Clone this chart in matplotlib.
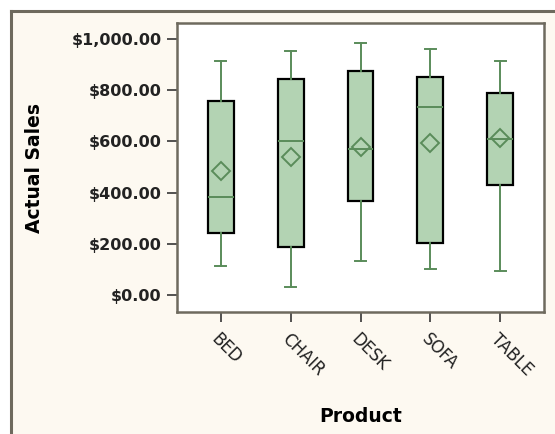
import matplotlib
matplotlib.use("Agg")
import matplotlib.pyplot as plt
from matplotlib.patches import Rectangle
from matplotlib.lines import Line2D

# values
products = ["BED", "CHAIR", "DESK", "SOFA", "TABLE"]
whisker_low = [115, 32, 132, 102, 93]
q1 = [241, 187, 366, 203, 428]
median = [382, 601, 570, 735, 608]
q3 = [758, 843, 874, 849, 787]
whisker_high = [913, 952, 984, 960, 913]
mean = [484, 540, 579, 592, 612]

yticks = [0, 200, 400, 600, 800, 1000]

green = "#5a8c5a"
fill = "#b3d3b3"
cream = "#fdf9f1"
frame = "#6e6a5e"

fig = plt.figure(figsize=(5.55, 4.34), dpi=100, facecolor="white")

# cream panel with dark top/left border
fig.patches.append(Rectangle((11 / 555, 0), 1, 1 - 11 / 434, transform=fig.transFigure,
                             facecolor=cream, edgecolor="none", zorder=-2))
fig.lines.append(Line2D([11 / 555, 1], [1 - 11 / 434] * 2, transform=fig.transFigure,
                        color=frame, lw=2.2))
fig.lines.append(Line2D([11 / 555] * 2, [0, 1 - 11 / 434], transform=fig.transFigure,
                        color=frame, lw=2.2))

ax = fig.add_axes([0.3184, 0.2818, 0.6623, 0.6645])
ax.set_facecolor("white")

stats = []
for i, p in enumerate(products):
    stats.append(dict(label=p, whislo=whisker_low[i], q1=q1[i], med=median[i],
                      q3=q3[i], whishi=whisker_high[i], mean=mean[i], fliers=[]))

ax.bxp(stats, positions=range(len(products)), widths=0.37, capwidths=0.16,
       patch_artist=True, showmeans=True,
       boxprops=dict(facecolor=fill, edgecolor="black", linewidth=1.6),
       whiskerprops=dict(color=green, linewidth=1.4),
       capprops=dict(color=green, linewidth=1.4),
       medianprops=dict(color=green, linewidth=1.4),
       meanprops=dict(marker="D", markerfacecolor="none", markeredgecolor=green,
                      markersize=9, markeredgewidth=1.4))

ax.set_xlim(-0.63, 4.63)
ax.set_ylim(-64, 1060)
ax.set_yticks(yticks)
ax.set_yticklabels(["${:,.2f}".format(v) for v in yticks], fontsize=11.5, fontweight="bold",
                   color="#222222")
ax.set_xticks(range(len(products)))
ax.set_xticklabels(products, rotation=-45, ha="left", va="top", rotation_mode="anchor",
                   fontsize=12, color="#222222")

for s in ax.spines.values():
    s.set_color(frame)
    s.set_linewidth(1.8)
ax.tick_params(axis="both", length=7, width=1.3, color="#444444")
ax.tick_params(axis="y", pad=4)
ax.tick_params(axis="x", pad=6)

ax.set_xlabel("Product", fontsize=13.5, fontweight="bold")
ax.set_ylabel("Actual Sales", fontsize=13.5, fontweight="bold")
ax.xaxis.set_label_coords(0.5, -0.330)
ax.yaxis.set_label_coords(-0.361, 0.5)

fig.savefig("out.png", dpi=100, facecolor=fig.get_facecolor())
